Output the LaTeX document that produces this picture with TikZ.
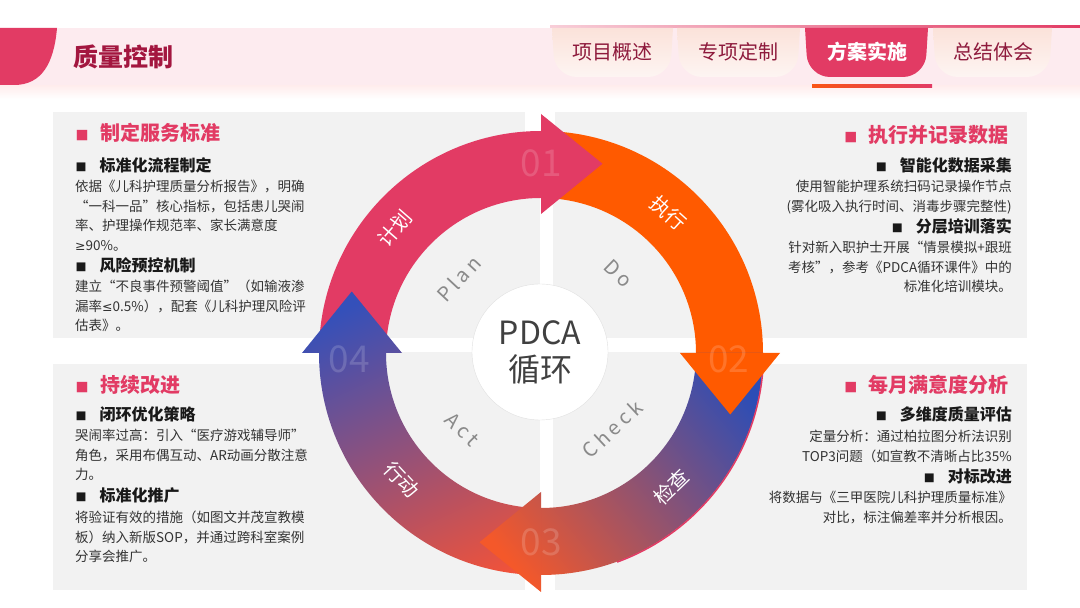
\documentclass[tikz,border=0pt]{standalone}
\usepackage{fontspec}
\setmainfont{Noto Sans CJK SC}
\newfontfamily\symfont{DejaVu Sans}
\usetikzlibrary{positioning}
\definecolor{plancol}{HTML}{E23B64}
\definecolor{docol}{HTML}{FF5A00}
\definecolor{ckblue}{HTML}{2C4DB6}
\definecolor{ckpurple}{HTML}{8A4AA2}
\definecolor{ckorange}{HTML}{F4582A}
\definecolor{actblue}{HTML}{3450BA}
\definecolor{actpurple}{HTML}{9A4A98}
\definecolor{actorange}{HTML}{F0523A}
\definecolor{panelgray}{HTML}{F2F2F2}
\definecolor{bandpink}{HTML}{FDEBEF}
\definecolor{tabpeach}{HTML}{FBE2DA}
\definecolor{darkred}{HTML}{A3163F}
\definecolor{tabtext}{HTML}{8E1A3C}
\definecolor{bodycol}{HTML}{333333}
\definecolor{labgray}{HTML}{8A8A8A}
\newcommand{\hdsq}{{\fontsize{13}{13}\selectfont ■}\hspace{11.5pt}}
\newcommand{\subsq}{{\fontsize{11}{11}\selectfont ■}\hspace{13pt}}
\newcommand{\qL}{{\addfontfeature{CharacterWidth=Full}“}}
\newcommand{\qR}{{\addfontfeature{CharacterWidth=Full}”}}
\newcommand{\geqs}{{\symfont\fontsize{12.5}{12.5}\selectfont ≥}}
\newcommand{\leqs}{{\symfont\fontsize{12.5}{12.5}\selectfont ≤}}

\begin{document}
\begin{tikzpicture}[x=1pt, y=1pt,
  panel/.style={fill=panelgray},
  hd/.style={font=\fontsize{20}{24}\selectfont\bfseries, text=plancol, inner sep=0},
  sub/.style={font=\fontsize{16}{19}\selectfont\bfseries, text=black!90, inner sep=0},
  body/.style={font=\fontsize{13.5}{19.5}\selectfont, text=bodycol, inner sep=0},
  ringlbl/.style={font=\fontsize{20}{24}\selectfont, text=white, inner sep=0},
  inlbl/.style={font=\fontsize{20}{24}\selectfont\addfontfeature{LetterSpace=20}, text=labgray, inner sep=0},
  num/.style={font=\fontsize{37}{40}\selectfont, text=white, opacity=0.16, inner sep=0},
  tab/.style={font=\fontsize{20}{24}\selectfont, text=tabtext, inner sep=0}]
\useasboundingbox (0,0) rectangle (1080,608);
\fill[white] (0,0) rectangle (1080,608);

% header band
\shade[top color=pink!30, bottom color=white] (0,509) rectangle (1080,523);
\fill[bandpink] (0,523) rectangle (1080,580);
\fill[plancol] (0,580) -- (57,580) .. controls (54,545) and (42,523) .. (14,523) -- (0,523) -- cycle;
\node[font=\fontsize{25}{30}\selectfont\bfseries, text=darkred, inner sep=0] (title) at (123.5,551) {质量控制};

% tabs
\shade[left color=plancol!25, right color=plancol] (550,580) rectangle (1080,582.5);
\shade[top color=tabpeach, bottom color=tabpeach!35!white, rounded corners=22] (552,580) -- (555,531) -- (670,531) -- (673,580);
\shade[top color=tabpeach, bottom color=tabpeach!35!white, rounded corners=22] (677,580) -- (680,531) -- (797,531) -- (800,580);
\fill[plancol, rounded corners=22] (805,580) -- (808,531) -- (925,531) -- (928,580);
\shade[top color=tabpeach, bottom color=tabpeach!35!white, rounded corners=22] (933,580) -- (936,531) -- (1049,531) -- (1052,580);
\shade[left color=docol!80!plancol, right color=plancol] (812,520.5) rectangle (932,523.5);
\node[tab] (tabA) at (612,556) {项目概述};
\node[tab] (tabB) at (738,556) {专项定制};
\node[tab, text=white, font=\fontsize{20}{24}\selectfont\bfseries] (tabC) at (867,556) {方案实施};
\node[tab] (tabD) at (993,556) {总结体会};

% panels
\fill[panel] (53,270) rectangle (525,496);
\fill[panel] (555,270) rectangle (1027,496);
\fill[panel] (53,18) rectangle (525,244);
\fill[panel] (555,18) rectangle (1027,244);

\begin{scope}[shift={(541,255)}]
% inner quadrants
\fill[panelgray] (0,0) circle[radius=155];
\begin{scope}
\clip (0,0) circle[radius=155];
\fill[white] (-200,1) rectangle (200,15);
\fill[white] (-1,-200) rectangle (12,200);
\end{scope}

% ring bodies
\fill[plancol] (180:222) arc[start angle=180, end angle=90, radius=222] -- (90:155) arc[start angle=90, end angle=180, radius=155] -- cycle;
\fill[docol] (90:222) arc[start angle=90, end angle=0, radius=222] -- (0:155) arc[start angle=0, end angle=90, radius=155] -- cycle;
\begin{scope}
\clip (0:222) arc[start angle=0, end angle=-90, radius=222] -- (-90:155) arc[start angle=-90, end angle=0, radius=155] -- cycle;
\shade[top color=ckblue, middle color=ckpurple, bottom color=ckorange, shading angle=-50] (-75,-250) rectangle (245,10);
\end{scope}
\draw[plancol, line width=1.5] (-2:222.5) arc[start angle=-2, end angle=-70, radius=222.5];
\begin{scope}
\clip (-90:222) arc[start angle=-90, end angle=-180, radius=222] -- (180:155) arc[start angle=180, end angle=270, radius=155] -- cycle;
\shade[top color=actblue, middle color=actpurple, bottom color=actorange, shading angle=25] (-245,-250) rectangle (20,78);
\end{scope}

% heads
\fill[plancol] (90:239) -- (72:199) -- (90:139) -- cycle;
\fill[docol] (0:239) -- (-18:199) -- (0:139) -- cycle;
\begin{scope}
\clip (-90:239) -- (-108:199) -- (-90:139) -- cycle;
\shade[top color=ckblue, middle color=ckpurple, bottom color=ckorange, shading angle=-50] (-75,-250) rectangle (245,10);
\end{scope}
\begin{scope}
\clip (180:239) -- (162:199) -- (180:139) -- cycle;
\shade[top color=actblue, middle color=actpurple, bottom color=actorange, shading angle=25] (-245,-250) rectangle (20,78);
\end{scope}

% numbers and labels
\node[num] (n01) at (90:190) {01};
\node[num] (n02) at (-2:188) {02};
\node[num] (n03) at (-90:189) {03};
\node[num] (n04) at (182:192) {04};
\node[ringlbl, rotate=49] (jihua) at (139.5:192) {计划};
\node[ringlbl, rotate=-42] (zhixing) at (47.7:189) {执行};
\node[ringlbl, rotate=44] (jiancha) at (-45.7:187) {检查};
\node[ringlbl, rotate=-47] (xingdong) at (-137.6:188) {行动};
\node[inlbl, rotate=47] (plan) at (137.9:111) {Plan};
\node[inlbl, rotate=-44] (do) at (45.9:111) {Do};
\node[inlbl, rotate=43] (check) at (-46.8:104) {Check};
\node[inlbl, rotate=-45] (act) at (-135.8:110) {Act};

\node[circle, fill=white, draw=black!12, minimum size=136, align=center, inner sep=0,
  font=\fontsize{32}{37}\selectfont, text=black!75] (pdca) at (-1,1) {PDCA\\循环};
\end{scope}

% top left
\node[hd, anchor=west] (tlh) at (75.5,475) {\hdsq 制定服务标准};
\node[sub, anchor=west] (tls1) at (75.5,443) {\subsq 标准化流程制定};
\node[body, anchor=north west, align=left] (tlb1) at (75,428) {依据《儿科护理质量分析报告》，明确\\\qL 一科一品\qR 核心指标，包括患儿哭闹\\率、护理操作规范率、家长满意度\\\geqs 90\%。};
\node[sub, anchor=west] (tls2) at (75.5,343) {\subsq 风险预控机制};
\node[body, anchor=north west, align=left] (tlb2) at (75,328) {建立\qL 不良事件预警阈值\qR（如输液渗\\漏率\leqs 0.5\%），配套《儿科护理风险评\\估表》。};

% top right
\node[hd, anchor=east] (trh) at (1009,473) {\hdsq 执行并记录数据};
\node[sub, anchor=east] (trs1) at (1012,443) {\subsq 智能化数据采集};
\node[body, anchor=north east, align=right] (trb1) at (1012,428) {使用智能护理系统扫码记录操作节点\\(雾化吸入执行时间、消毒步骤完整性)};
\node[sub, anchor=east] (trs2) at (1012,382) {\subsq 分层培训落实};
\node[body, anchor=north east, align=right] (trb2) at (1012,367) {针对新入职护士开展\qL 情景模拟+跟班\\考核\qR，参考《PDCA循环课件》中的\\标准化培训模块。};

% bottom left
\node[hd, anchor=west] (blh) at (75.5,223) {\hdsq 持续改进};
\node[sub, anchor=west] (bls1) at (75.5,194) {\subsq 闭环优化策略};
\node[body, anchor=north west, align=left] (blb1) at (75,179) {哭闹率过高：引入\qL 医疗游戏辅导师\qR\\角色，采用布偶互动、AR动画分散注意\\力。};
\node[sub, anchor=west] (bls2) at (75.5,113) {\subsq 标准化推广};
\node[body, anchor=north west, align=left] (blb2) at (75,97) {将验证有效的措施（如图文并茂宣教模\\板）纳入新版SOP，并通过跨科室案例\\分享会推广。};

% bottom right
\node[hd, anchor=east] (brh) at (1009,223) {\hdsq 每月满意度分析};
\node[sub, anchor=east] (brs1) at (1012,194) {\subsq 多维度质量评估};
\node[body, anchor=north east, align=right] (brb1) at (1012,178) {定量分析：通过柏拉图分析法识别\\TOP3问题（如宣教不清晰占比35\%};
\node[sub, anchor=east] (brs2) at (1012,132) {\subsq 对标改进};
\node[body, anchor=north east, align=right] (brb2) at (1012,117) {将数据与《三甲医院儿科护理质量标准》\\对比，标注偏差率并分析根因。};
\end{tikzpicture}
\end{document}
